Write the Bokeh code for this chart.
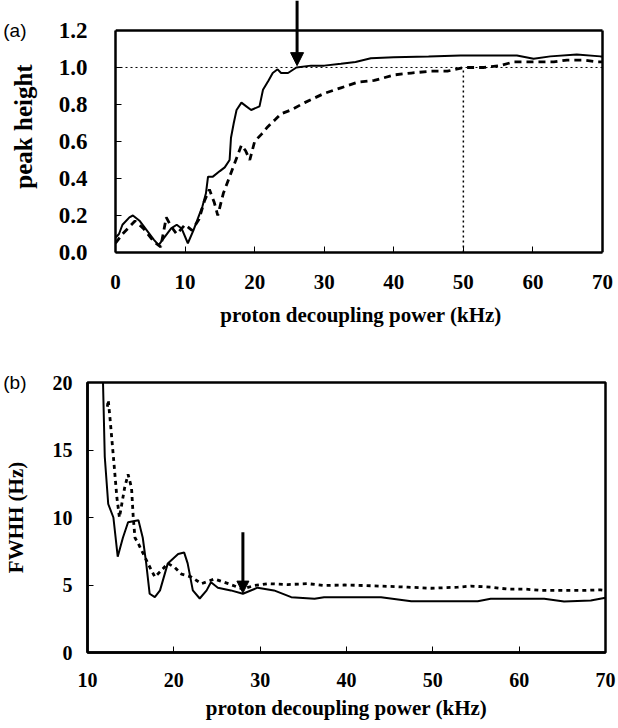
from bokeh.plotting import figure
from bokeh.models import Arrow, NormalHead, FixedTicker, LinearAxis
from bokeh.embed import file_html
from bokeh.resources import INLINE

# ---- panel (a): peak height vs decoupling power ----
a_x_solid = [0, 0.5, 1, 2, 2.5, 3.5, 4.5, 5.5, 6.2, 7, 8, 8.8, 9.5, 10.4, 11.2, 11.9, 12.5, 13,
             13.3, 14.0, 15.0, 15.7, 16.4, 16.6, 17.0, 17.4, 18.1, 18.8, 19.5, 20.7, 21.2, 22.0,
             22.6, 23.3, 23.8, 24.8, 26.0, 28.1, 30, 32.4, 34.5, 36.7, 40, 45, 49.6, 55, 57.7,
             60.1, 62.5, 66.3, 69.7, 70]
a_y_solid = [0.08, 0.1, 0.15, 0.19, 0.2, 0.17, 0.12, 0.07, 0.04, 0.08, 0.13, 0.15, 0.13, 0.05,
             0.12, 0.19, 0.25, 0.32, 0.41, 0.41, 0.44, 0.46, 0.5, 0.62, 0.7, 0.77, 0.81, 0.79,
             0.77, 0.79, 0.88, 0.93, 0.97, 0.99, 0.97, 0.97, 1.0, 1.01, 1.01, 1.02, 1.03, 1.05,
             1.055, 1.06, 1.065, 1.065, 1.065, 1.047, 1.06, 1.07, 1.06, 1.06]
a_x_dash = [0, 1, 2.8, 4, 5.5, 6.5, 7.3, 8.0, 8.8, 10.0, 11.0, 12.0, 12.8, 13.5, 14.2, 14.7, 15.5,
            16.6, 17.5, 18.1, 18.7, 19.3, 20.0, 21.0, 21.9, 23.0, 23.8, 25.2, 27.2, 30.0, 32.4,
            34.8, 37.2, 40.1, 42.5, 45.3, 47.7, 50.1, 53.0, 55.3, 57.2, 60.1, 63.0, 64.9, 67.3,
            69.2, 70]
a_y_dash = [0.05, 0.1, 0.17, 0.13, 0.06, 0.03, 0.19, 0.14, 0.1, 0.15, 0.12, 0.18, 0.28, 0.34,
            0.27, 0.2, 0.32, 0.43, 0.52, 0.58, 0.55, 0.5, 0.6, 0.64, 0.68, 0.72, 0.75, 0.77, 0.81,
            0.86, 0.89, 0.92, 0.93, 0.96, 0.97, 0.98, 0.98, 1.0, 1.0, 1.01, 1.03, 1.03, 1.03, 1.04,
            1.04, 1.03, 1.03]
a_xticks = [0, 10, 20, 30, 40, 50, 60, 70]
a_yticks = [0.0, 0.2, 0.4, 0.6, 0.8, 1.0, 1.2]
a_xmax = 70
a_ymax = 1.2
a_ref_level = 1.0
a_ref_x = 50
a_arrow_x = 26.1
a_arrow_tip = 1.01

# ---- panel (b): FWHH vs decoupling power ----
b_x_solid = [11.65, 11.8, 12.0, 12.4, 13.0, 13.5, 14.1, 14.7, 15.9, 16.4, 16.8, 17.2, 17.8, 18.4,
             19.3, 20.5, 21.2, 21.6, 22.2, 23.0, 23.8, 24.3, 25.1, 26.6, 28.0, 29.7, 31.6, 33.6,
             36.3, 37.4, 44.0, 47.5, 55.2, 56.7, 62.9, 65.2, 68.3, 70]
b_y_solid = [21, 19.9, 14.5, 11.0, 10.0, 7.1, 8.5, 9.65, 9.8, 8.5, 6.6, 4.35, 4.1, 4.6, 6.6, 7.3,
             7.4, 6.6, 4.6, 4.0, 4.6, 5.2, 4.8, 4.6, 4.35, 4.8, 4.6, 4.1, 3.98, 4.1, 4.1, 3.8, 3.8,
             3.98, 3.98, 3.78, 3.85, 4.05]
b_x_dash = [12.3, 12.4, 12.6, 13.0, 13.4, 13.7, 14.3, 14.7, 15.1, 15.3, 15.5, 15.9, 17.0, 17.8,
            18.6, 19.3, 20.1, 20.9, 22.0, 23.2, 24.7, 26.3, 28.0, 29.3, 30.9, 33.2, 35.5, 37.4,
            39.8, 42.1, 44.8, 47.1, 49.8, 52.9, 54.4, 56.7, 58.6, 60.6, 62.5, 65.2, 67.5, 69.4, 70]
b_y_dash = [18.2, 18.7, 17.4, 14.5, 11.5, 10.0, 12.2, 13.2, 12.2, 10.0, 8.5, 8.05, 6.6, 5.6, 6.1,
            6.6, 6.3, 5.8, 5.6, 5.1, 5.45, 5.1, 4.7, 4.96, 5.1, 5.03, 5.1, 4.96, 5.0, 4.96, 4.9,
            4.84, 4.76, 4.84, 4.92, 4.84, 4.7, 4.7, 4.6, 4.6, 4.6, 4.64, 4.6]
b_xticks = [10, 20, 30, 40, 50, 60, 70]
b_yticks = [0, 5, 10, 15, 20]
b_arrow_x = 28.0
b_arrow_top = 8.9
b_arrow_tip = 4.4

SERIF = "Liberation Serif"
SANS = "Liberation Sans"


def style_axis(ax, tick_size, label_size):
    ax.axis_line_width = 2.5
    ax.axis_line_color = "black"
    ax.major_tick_in = 6
    ax.major_tick_out = 0
    ax.minor_tick_line_color = None
    ax.major_tick_line_color = "black"
    ax.major_tick_line_width = 1
    ax.major_label_text_font = SERIF
    ax.major_label_text_font_style = "bold"
    ax.major_label_text_font_size = tick_size
    ax.major_label_text_color = "black"
    ax.axis_label_text_font = SERIF
    ax.axis_label_text_font_style = "bold"
    ax.axis_label_text_font_size = label_size
    ax.axis_label_text_color = "black"


def panel_tag(text, tick, standoff):
    ax = LinearAxis(ticker=FixedTicker(ticks=[tick]), major_label_overrides={tick: text})
    ax.axis_line_color = None
    ax.major_tick_line_color = None
    ax.minor_tick_line_color = None
    ax.major_tick_in = 0
    ax.major_tick_out = 0
    ax.major_label_standoff = standoff
    ax.major_label_text_font = SANS
    ax.major_label_text_font_size = "19px"
    ax.major_label_text_color = "black"
    return ax


# ---------------- figure (a) ----------------
# frame extends above the box so the arrow can start above it
pa = figure(width=618, height=344, x_range=(0, 70.574), y_range=(0, 1.362),
            output_backend="svg", toolbar_location=None,
            min_border_left=114, min_border_right=12, min_border_top=0, min_border_bottom=92)
pa.outline_line_color = None
pa.xgrid.visible = False
pa.ygrid.visible = False
style_axis(pa.xaxis[0], "21px", "21px")
style_axis(pa.yaxis[0], "23px", "25px")
pa.xaxis[0].ticker = FixedTicker(ticks=a_xticks)
pa.yaxis[0].ticker = FixedTicker(ticks=a_yticks)
pa.xaxis[0].bounds = (0, a_xmax)
pa.yaxis[0].bounds = (0, a_ymax)
pa.yaxis[0].major_label_overrides = {v: f"{v:.1f}" for v in a_yticks}
pa.xaxis[0].axis_label = "proton decoupling power (kHz)"
pa.yaxis[0].axis_label = "peak height"
pa.xaxis[0].major_label_standoff = 22
pa.xaxis[0].axis_label_standoff = 11
pa.yaxis[0].major_label_standoff = 28
pa.yaxis[0].axis_label_standoff = 19
pa.add_layout(panel_tag("(a)", a_ymax, -20), "left")

# box top and right edges
pa.line([0, a_xmax], [a_ymax, a_ymax], line_color="black", line_width=2.5)
pa.line([a_xmax, a_xmax], [0, a_ymax], line_color="black", line_width=2.5)

pa.line([0, a_xmax], [a_ref_level, a_ref_level], line_color="black", line_width=1, line_dash="2 3")
pa.line([a_ref_x, a_ref_x], [0, a_ref_level], line_color="black", line_width=1.5, line_dash="2 3")
pa.line(a_x_dash, a_y_dash, line_color="black", line_width=2.8, line_dash="7 5")
pa.line(a_x_solid, a_y_solid, line_color="black", line_width=2)
pa.add_layout(Arrow(end=NormalHead(size=13, fill_color="black", line_color="black"),
                    x_start=a_arrow_x, y_start=1.362, x_end=a_arrow_x, y_end=a_arrow_tip,
                    line_width=3, line_color="black"))

# ---------------- figure (b) ----------------
pb = figure(width=618, height=384, x_range=(10, 70), y_range=(0, 20),
            output_backend="svg", toolbar_location=None,
            min_border_left=86, min_border_right=13, min_border_top=38, min_border_bottom=76)
pb.outline_line_color = "black"
pb.outline_line_width = 2.5
pb.xgrid.visible = False
pb.ygrid.visible = False
style_axis(pb.xaxis[0], "20px", "21px")
style_axis(pb.yaxis[0], "20px", "21px")
pb.xaxis[0].ticker = FixedTicker(ticks=b_xticks)
pb.yaxis[0].ticker = FixedTicker(ticks=b_yticks)
pb.xaxis[0].axis_label = "proton decoupling power (kHz)"
pb.yaxis[0].axis_label = "FWHH (Hz)"
pb.xaxis[0].major_label_standoff = 20
pb.xaxis[0].axis_label_standoff = 6
pb.yaxis[0].major_label_standoff = 15
pb.yaxis[0].axis_label_standoff = 22
pb.add_layout(panel_tag("(b)", 20, -26), "left")

pb.line(b_x_dash, b_y_dash, line_color="black", line_width=2.8, line_dash="4 4")
pb.line(b_x_solid, b_y_solid, line_color="black", line_width=2)
pb.add_layout(Arrow(end=NormalHead(size=12, fill_color="black", line_color="black"),
                    x_start=b_arrow_x, y_start=b_arrow_top, x_end=b_arrow_x, y_end=b_arrow_tip,
                    line_width=3, line_color="black"))

open("out.html", "w").write(file_html([pa, pb], INLINE))
